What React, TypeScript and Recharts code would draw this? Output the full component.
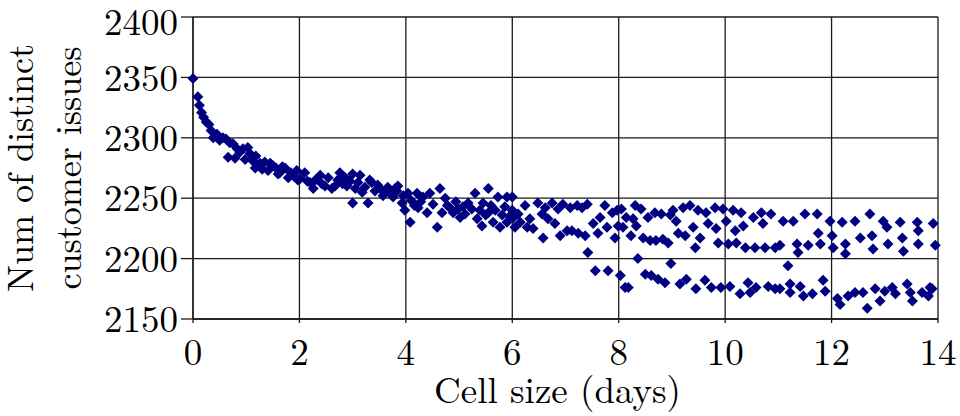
import React from 'react';
import { ScatterChart, Scatter, XAxis, YAxis, CartesianGrid, Label } from 'recharts';

const FONT = '"Latin Modern Roman", "Liberation Serif", "Times New Roman", serif';
const MARK = '#000080';

const xTicks = [0, 2, 4, 6, 8, 10, 12, 14];
const yTicks = [2150, 2200, 2250, 2300, 2350, 2400];

// [cell size in days, distinct customer issues]
const firstDays = [
  [0.0, 2349], [0.09, 2334], [0.12, 2327], [0.16, 2321], [0.2, 2317], [0.25, 2313], [0.3, 2311],
  [0.34, 2306], [0.38, 2300], [0.45, 2303], [0.5, 2298], [0.56, 2300], [0.62, 2299], [0.66, 2284],
  [0.69, 2296], [0.75, 2295], [0.79, 2283], [0.83, 2291], [0.88, 2288], [0.94, 2291], [0.98, 2282],
  [1.03, 2292], [1.07, 2287], [1.12, 2281], [1.17, 2275], [1.18, 2285], [1.26, 2279], [1.3, 2274],
  [1.35, 2280], [1.41, 2273], [1.45, 2279], [1.5, 2277], [1.56, 2275], [1.6, 2270], [1.63, 2271],
  [1.68, 2276], [1.73, 2275], [1.79, 2267], [1.84, 2271], [1.9, 2268], [1.95, 2273], [1.97, 2265],
  [2.01, 2266],
];

const secondSpan = [
  [2.1, 2271], [2.15, 2264], [2.2, 2263], [2.26, 2258], [2.3, 2265], [2.39, 2269], [2.42, 2262],
  [2.48, 2260], [2.54, 2267], [2.61, 2258], [2.67, 2260], [2.72, 2265], [2.76, 2271], [2.81, 2262],
  [2.86, 2267], [2.89, 2260], [2.95, 2264], [3.0, 2270], [3.0, 2246], [3.05, 2258], [3.1, 2263],
  [3.14, 2269], [3.18, 2255], [3.23, 2259], [3.29, 2246], [3.32, 2265], [3.36, 2263], [3.42, 2256],
  [3.47, 2261], [3.52, 2258], [3.57, 2252], [3.61, 2254], [3.66, 2259], [3.71, 2255], [3.76, 2251],
  [3.8, 2258], [3.83, 2256], [3.85, 2260], [3.93, 2246], [3.95, 2252], [3.98, 2240],
];

const thirdSpan = [
  [4.08, 2230], [4.04, 2254], [4.1, 2248], [4.16, 2244], [4.21, 2254], [4.23, 2242], [4.28, 2247],
  [4.32, 2251], [4.4, 2238], [4.45, 2254], [4.51, 2245], [4.59, 2226], [4.64, 2258], [4.68, 2238],
  [4.74, 2250], [4.78, 2244], [4.83, 2242], [4.89, 2238], [4.94, 2247], [4.98, 2241], [5.02, 2234],
  [5.07, 2243], [5.11, 2237], [5.17, 2246], [5.24, 2241], [5.3, 2254], [5.34, 2233], [5.39, 2240],
  [5.43, 2227], [5.45, 2246], [5.5, 2236], [5.55, 2258], [5.55, 2238], [5.6, 2244], [5.64, 2230],
  [5.68, 2240], [5.73, 2251], [5.77, 2226], [5.81, 2236], [5.86, 2243], [5.9, 2251], [5.9, 2230],
  [5.95, 2235], [6.0, 2240],
];

const fourthSpan = [
  [6.0, 2251], [6.02, 2234], [6.05, 2226], [6.11, 2237], [6.15, 2230], [6.24, 2244], [6.28, 2226],
  [6.33, 2233], [6.39, 2225], [6.48, 2246], [6.56, 2237], [6.58, 2217], [6.62, 2242], [6.67, 2233],
  [6.75, 2246], [6.8, 2229], [6.86, 2241], [6.9, 2219], [6.95, 2245], [7.03, 2223], [7.09, 2242],
  [7.12, 2223], [7.22, 2244], [7.24, 2221], [7.31, 2242], [7.37, 2219], [7.41, 2245], [7.42, 2205],
  [7.52, 2229], [7.56, 2190], [7.61, 2221], [7.65, 2234], [7.74, 2244], [7.78, 2226], [7.8, 2190],
  [7.88, 2238], [7.93, 2217], [7.97, 2240], [7.99, 2227],
];

const fifthSpan = [
  [8.03, 2186], [8.12, 2176], [8.05, 2241], [8.08, 2226], [8.14, 2234], [8.18, 2176], [8.23, 2219],
  [8.27, 2233], [8.31, 2244], [8.33, 2227], [8.36, 2200], [8.42, 2241], [8.46, 2217], [8.5, 2187],
  [8.55, 2234], [8.59, 2215], [8.61, 2186], [8.68, 2238], [8.7, 2215], [8.74, 2183], [8.8, 2237],
  [8.83, 2216], [8.87, 2180], [8.93, 2213], [8.97, 2236], [8.98, 2196], [9.02, 2240], [9.08, 2231],
  [9.12, 2221], [9.15, 2179], [9.21, 2242], [9.25, 2219], [9.27, 2183], [9.34, 2244], [9.4, 2226],
  [9.44, 2209], [9.45, 2175], [9.49, 2240], [9.53, 2217], [9.62, 2182], [9.64, 2238], [9.68, 2229],
  [9.74, 2176], [9.81, 2242], [9.83, 2225], [9.87, 2213], [9.92, 2176], [9.96, 2241], [10.02, 2231],
  [10.06, 2212], [10.09, 2177], [10.15, 2240], [10.19, 2223], [10.21, 2213], [10.28, 2171],
  [10.3, 2238], [10.34, 2227], [10.38, 2209], [10.43, 2180], [10.47, 2172], [10.53, 2234],
  [10.56, 2209], [10.58, 2176], [10.68, 2238], [10.71, 2229], [10.75, 2209], [10.81, 2177],
  [10.86, 2237], [10.94, 2209], [10.94, 2175],
];

const lastSpan = [
  [11.09, 2231], [11.03, 2211], [11.03, 2175], [11.18, 2194], [11.22, 2179], [11.22, 2172],
  [11.28, 2231], [11.35, 2212], [11.37, 2205], [11.41, 2177], [11.5, 2237], [11.47, 2169],
  [11.56, 2211], [11.64, 2171], [11.73, 2237], [11.75, 2221], [11.79, 2212], [11.84, 2182],
  [11.88, 2173], [11.97, 2231], [12.01, 2219], [12.03, 2209], [12.11, 2167], [12.16, 2162],
  [12.2, 2230], [12.26, 2212], [12.26, 2204], [12.31, 2169], [12.44, 2231], [12.44, 2172],
  [12.54, 2217], [12.59, 2172], [12.67, 2159], [12.72, 2237], [12.76, 2219], [12.78, 2208],
  [12.82, 2175], [12.91, 2165], [12.97, 2231], [13.04, 2226], [13.0, 2173], [13.06, 2212],
  [13.14, 2176], [13.2, 2171], [13.29, 2230], [13.33, 2217], [13.35, 2206], [13.42, 2179],
  [13.48, 2172], [13.52, 2165], [13.61, 2230], [13.63, 2223], [13.63, 2212], [13.7, 2172],
  [13.82, 2169], [13.85, 2176], [13.89, 2175], [13.91, 2229], [13.95, 2211],
];

const points = [...firstDays, ...secondSpan, ...thirdSpan, ...fourthSpan, ...fifthSpan, ...lastSpan]
  .map(([x, y]) => ({ x, y }));

const Diamond = (props: any) => {
  const { cx, cy } = props;
  const r = 5.5;
  return (
    <polygon
      points={`${cx},${cy - r} ${cx + r},${cy} ${cx},${cy + r} ${cx - r},${cy}`}
      fill={MARK}
    />
  );
};

const tickStyle = { fontSize: 37, fill: '#000', fontFamily: FONT };

const YTitle = (props: any) => {
  const vb = props.viewBox;
  const cy = vb.y + vb.height / 2;
  return (
    <g fontFamily={FONT} fontSize={36} fill="#000">
      <text x={33} y={cy} textAnchor="middle" transform={`rotate(-90, 33, ${cy})`}>Num of distinct</text>
      <text x={81} y={cy} textAnchor="middle" transform={`rotate(-90, 81, ${cy})`}>customer issues</text>
    </g>
  );
};

const XTitle = (props: any) => {
  const vb = props.viewBox;
  return (
    <text x={vb.x + vb.width / 2 - 8} y={vb.y + 84} textAnchor="middle" fontFamily={FONT} fontSize={37} fill="#000">
      Cell size (days)
    </text>
  );
};

export default function App() {
  return (
    <div style={{ position: 'absolute', left: 0, top: 0, background: '#fff' }}>
      <ScatterChart width={960} height={416} margin={{ top: 17, right: 22, bottom: 0, left: 0 }}>
        <CartesianGrid stroke="#1a1a1a" strokeWidth={1.3} />
        <XAxis
          type="number"
          dataKey="x"
          domain={[0, 14]}
          ticks={xTicks}
          height={97}
          tickSize={4}
          tickMargin={16}
          tick={tickStyle}
          stroke="#1a1a1a"
          strokeWidth={1.3}
        >
          <Label content={<XTitle />} />
        </XAxis>
        <YAxis
          type="number"
          dataKey="y"
          domain={[2150, 2400]}
          ticks={yTicks}
          width={193}
          tickSize={12}
          tickMargin={3}
          tick={tickStyle}
          stroke="#1a1a1a"
          strokeWidth={1.3}
        >
          <Label content={<YTitle />} />
        </YAxis>
        <Scatter data={points} shape={<Diamond />} isAnimationActive={false} />
      </ScatterChart>
    </div>
  );
}
